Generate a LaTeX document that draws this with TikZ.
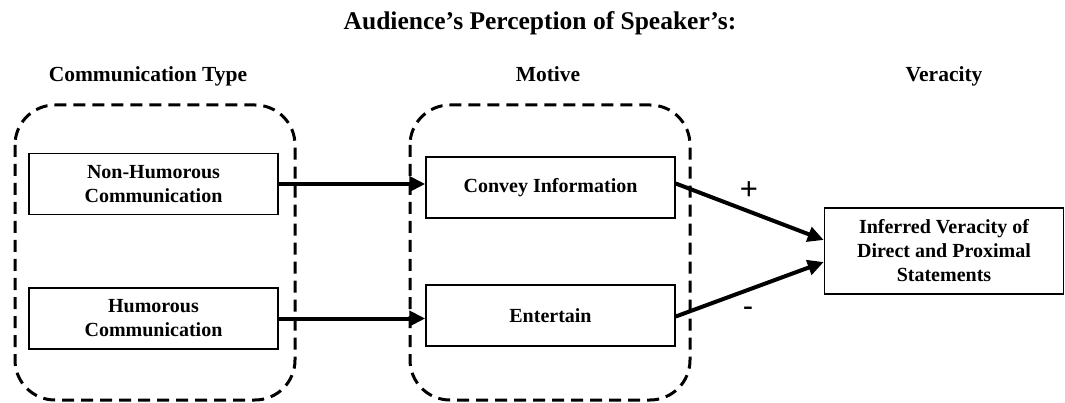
\documentclass[tikz,border=0pt]{standalone}
\usepackage{fontspec}
\setmainfont{Liberation Serif}
\newfontfamily\sansf{Liberation Sans}
\usetikzlibrary{arrows.meta,calc}
\begin{document}
\begin{tikzpicture}[x=1pt,y=-1pt,
  box/.style={draw,line width=1.5pt,minimum width=249pt,minimum height=61pt,inner sep=2pt,align=center,font=\fontsize{20}{24}\selectfont\bfseries},
  grp/.style={draw,line width=3pt,dash pattern=on 12pt off 7pt,rounded corners=40pt},
  arr/.style={line width=4pt,-{Triangle[length=16pt,width=15pt]}},
  hdr/.style={anchor=base,font=\fontsize{21.5}{25}\selectfont\bfseries},
  sign/.style={font=\fontsize{31}{34}\selectfont\sansf}]
\useasboundingbox (0,0) rectangle (1065,403);
\node[anchor=base,font=\fontsize{25.5}{30}\selectfont\bfseries] (title) at (540,30) {Audience’s Perception of Speaker’s:};
\node[hdr] (h1) at (148,82) {Communication Type};
\node[hdr] (h2) at (548,82) {Motive};
\node[hdr] (h3) at (944,82) {Veracity};
\draw[grp] (15,105) rectangle (295,400);
\draw[grp] (410,105) rectangle (690,400);
\node[box] (nh) at (153.5,184) {Non-Humorous\\Communication};
\node[box] (hu) at (153.5,318.5) {Humorous\\Communication};
\node[box] (ci) at (550.5,187.5) {Convey Information};
\node[box] (en) at (550.5,315.5) {Entertain};
\node[box,minimum width=239pt,minimum height=86pt] (vi) at (944,251) {Inferred Veracity of\\Direct and Proximal\\Statements};
\draw[arr] (nh.east) -- (nh.east -| ci.west);
\draw[arr] (hu.east) -- (hu.east -| en.west);
\draw[arr] ([yshift=4pt]ci.east) -- ([yshift=11pt]vi.west);
\draw[arr] ([yshift=-1pt]en.east) -- ([yshift=-11pt]vi.west);
\node[sign] (plus) at (749,191) {+};
\node[sign] (minus) at (748,312) {-};
\end{tikzpicture}
\end{document}
